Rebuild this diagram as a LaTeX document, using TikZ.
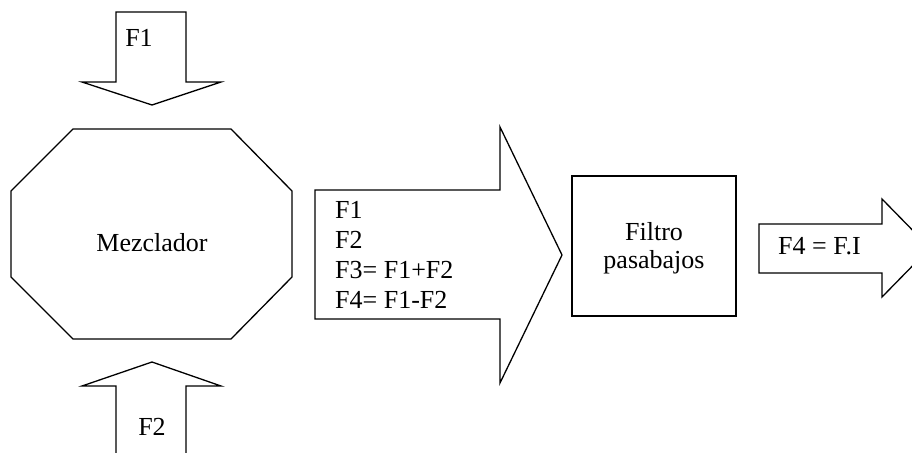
\documentclass[tikz,border=0pt]{standalone}
\usepackage{fontspec}
\setmainfont{Liberation Serif}
\begin{document}
\begin{tikzpicture}[x=1pt,y=-1pt,
  shp/.style={draw=black,line width=1.3pt,line join=miter,fill=white},
  lbl/.style={inner sep=0pt,anchor=base,font=\fontsize{26}{30}\selectfont}]
\useasboundingbox (0,0) rectangle (912,452);
\clip (0,0) rectangle (912,452);
% F1 arrow
\draw[shp] (116,12) -- (186,12) -- (186,82) -- (221,82) -- (152,105) -- (82,82) -- (116,82) -- cycle;
% F2 arrow
\draw[shp] (116,470) -- (116,386) -- (82,386) -- (152,362) -- (221,386) -- (186,386) -- (186,470);
% octagon
\draw[shp] (73,129) -- (231,129) -- (292,191) -- (292,277) -- (231,339) -- (73,339) -- (11,277) -- (11,191) -- cycle;
% big arrow
\draw[shp] (315,190) -- (500,190) -- (500,127) -- (562,255) -- (500,383) -- (500,319) -- (315,319) -- cycle;
% filter box
\draw[shp] (572,176) rectangle (736,316);
% output arrow
\draw[shp] (759,224) -- (882,224) -- (882,199) -- (930,248) -- (882,297) -- (882,273) -- (759,273) -- cycle;
% texts
\node[lbl] (f1) at (139,47) {F1};
\node[lbl] (f2) at (152,435) {F2};
\node[lbl] (mez) at (152,251) {Mezclador};
\node[lbl,anchor=base west] (l1) at (335,218) {F1};
\node[lbl,anchor=base west] (l2) at (335,248) {F2};
\node[lbl,anchor=base west] (l3) at (335,278) {F3= F1+F2};
\node[lbl,anchor=base west] (l4) at (335,308) {F4= F1-F2};
\node[lbl] (fil1) at (654,240) {Filtro};
\node[lbl] (fil2) at (654,268) {pasabajos};
\node[lbl,anchor=base west] (out) at (778,254) {F4 = F.I};
\end{tikzpicture}
\end{document}
